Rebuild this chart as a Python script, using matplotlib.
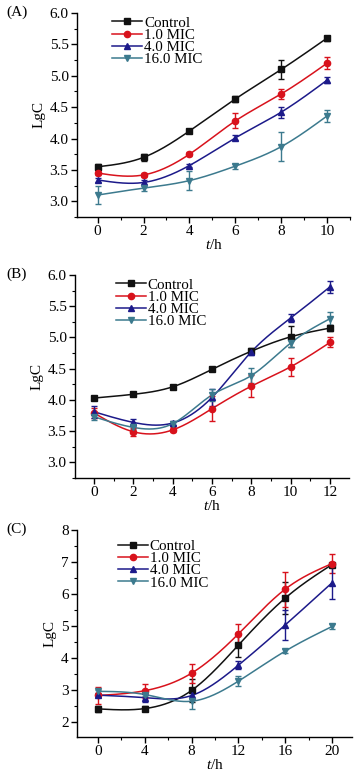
import numpy as np
import matplotlib
matplotlib.use("Agg")
import matplotlib.pyplot as plt
from matplotlib.ticker import MultipleLocator

plt.rcParams['font.family'] = ['Liberation Serif', 'DejaVu Serif']
plt.rcParams['mathtext.fontset'] = 'custom'
plt.rcParams['mathtext.it'] = 'Liberation Serif:italic'
plt.rcParams['mathtext.rm'] = 'Liberation Serif'

series_names = ["Control", "1.0 MIC", "4.0 MIC", "16.0 MIC"]
colors = ["#111111", "#d8121c", "#1c1a8a", "#3c7a8e"]
markers = ["s", "o", "^", "v"]

# Panel A
time_a = [0, 2, 4, 6, 8, 10]
vals_a = [
    [3.55, 3.70, 4.12, 4.63, 5.10, 5.60],
    [3.45, 3.42, 3.75, 4.28, 4.71, 5.20],
    [3.34, 3.30, 3.57, 4.01, 4.42, 4.93],
    [3.10, 3.21, 3.33, 3.56, 3.87, 4.36],
]
err_a = [
    [0.05, 0.06, 0.02, 0.04, 0.15, 0.04],
    [0.03, 0.03, 0.03, 0.12, 0.08, 0.10],
    [0.03, 0.04, 0.03, 0.04, 0.09, 0.05],
    [0.14, 0.05, 0.15, 0.04, 0.23, 0.09],
]

# Panel B
time_b = [0, 2, 4, 6, 8, 10, 12]
vals_b = [
    [4.03, 4.09, 4.21, 4.49, 4.78, 5.01, 5.15],
    [3.79, 3.49, 3.52, 3.86, 4.22, 4.53, 4.92],
    [3.81, 3.64, 3.63, 4.04, 4.77, 5.31, 5.81],
    [3.73, 3.56, 3.62, 4.08, 4.39, 4.91, 5.30],
]
err_b = [
    [0.02, 0.02, 0.02, 0.02, 0.05, 0.17, 0.05],
    [0.08, 0.06, 0.04, 0.20, 0.18, 0.14, 0.08],
    [0.10, 0.05, 0.03, 0.14, 0.05, 0.06, 0.10],
    [0.05, 0.03, 0.03, 0.10, 0.12, 0.07, 0.10],
]

# Panel C
time_c = [0, 4, 8, 12, 16, 20]
vals_c = [
    [2.40, 2.41, 2.98, 4.40, 5.87, 6.92],
    [2.82, 2.97, 3.52, 4.75, 6.15, 6.95],
    [2.83, 2.75, 2.82, 3.77, 5.03, 6.35],
    [2.95, 2.85, 2.64, 3.27, 4.21, 4.98],
]
err_c = [
    [0.10, 0.07, 0.35, 0.38, 0.50, 0.02],
    [0.27, 0.22, 0.30, 0.30, 0.55, 0.30],
    [0.07, 0.12, 0.12, 0.13, 0.47, 0.50],
    [0.05, 0.05, 0.25, 0.15, 0.07, 0.08],
]


def natural_spline(x, y, n=40):
    """Smooth connecting curve through the data points (display only)."""
    x = np.asarray(x, float)
    y = np.asarray(y, float)
    k = len(x)
    h = np.diff(x)
    A = np.zeros((k, k))
    r = np.zeros(k)
    A[0, 0] = 1
    A[-1, -1] = 1
    for i in range(1, k - 1):
        A[i, i - 1] = h[i - 1]
        A[i, i] = 2 * (h[i - 1] + h[i])
        A[i, i + 1] = h[i]
        r[i] = 6 * ((y[i + 1] - y[i]) / h[i] - (y[i] - y[i - 1]) / h[i - 1])
    M = np.linalg.solve(A, r)
    xs, ys = [], []
    for i in range(k - 1):
        t = np.linspace(x[i], x[i + 1], n, endpoint=(i == k - 2))
        a = x[i + 1] - t
        b = t - x[i]
        s = (M[i] * a ** 3 + M[i + 1] * b ** 3) / (6 * h[i]) \
            + (y[i] / h[i] - M[i] * h[i] / 6) * a \
            + (y[i + 1] / h[i] - M[i + 1] * h[i] / 6) * b
        xs.append(t)
        ys.append(s)
    return np.concatenate(xs), np.concatenate(ys)


fig = plt.figure(figsize=(3.64, 7.75), dpi=100)

panels = [
    dict(rect=[77 / 364, 1 - 217 / 775, 273 / 364, 204 / 775], t=time_a, v=vals_a, e=err_a,
         xlim=(-0.9, 11.0), ylim=(2.75, 6.0), xmaj=2, xmin=1, ymaj=0.5, ymin=0.25,
         yfmt="%.1f", label="(A)", leg=(0.13, 0.985)),
    dict(rect=[75 / 364, 1 - 478 / 775, 274 / 364, 203 / 775], t=time_b, v=vals_b, e=err_b,
         xlim=(-0.97, 12.97), ylim=(2.75, 6.0), xmaj=2, xmin=1, ymaj=0.5, ymin=0.25,
         yfmt="%.1f", label="(B)", leg=(0.15, 0.985)),
    dict(rect=[77 / 364, 1 - 737 / 775, 275 / 364, 207 / 775], t=time_c, v=vals_c, e=err_c,
         xlim=(-1.8, 21.7), ylim=(1.52, 8.0), xmaj=4, xmin=2, ymaj=1, ymin=0.5,
         yfmt="%d", label="(C)", leg=(0.15, 0.955)),
]

fs = 11
lfs = 10.8
for p in panels:
    ax = fig.add_axes(p["rect"])
    handles = []
    for vals, errs, c, m, name in zip(p["v"], p["e"], colors, markers, series_names):
        xs, ys = natural_spline(p["t"], vals)
        ax.plot(xs, ys, color=c, lw=1.1, zorder=2)
        ax.errorbar(p["t"], vals, yerr=errs, fmt="none", ecolor=c, elinewidth=1.0,
                    capsize=2.5, capthick=1.0, zorder=3)
        ax.plot(p["t"], vals, ls="none", marker=m, color=c, ms=4.5, zorder=4)
        h, = ax.plot([], [], color=c, lw=1.1, marker=m, ms=4.5, label=name)
        handles.append(h)
    ax.set_xlim(*p["xlim"])
    ax.set_ylim(*p["ylim"])
    ax.xaxis.set_major_locator(MultipleLocator(p["xmaj"]))
    ax.xaxis.set_minor_locator(MultipleLocator(p["xmin"]))
    ax.yaxis.set_major_locator(MultipleLocator(p["ymaj"]))
    ax.yaxis.set_minor_locator(MultipleLocator(p["ymin"]))
    ax.yaxis.set_major_formatter(matplotlib.ticker.FormatStrFormatter(p["yfmt"]))
    ax.set_xticks([tt for tt in ax.get_xticks() if 0 <= tt <= max(p["t"])])
    ax.set_xlim(*p["xlim"])
    for s in ["top", "right"]:
        ax.spines[s].set_visible(False)
    for s in ["left", "bottom"]:
        ax.spines[s].set_linewidth(1.0)
    ax.tick_params(which="major", direction="out", length=4, width=1.0, labelsize=fs, pad=2)
    ax.tick_params(which="minor", direction="out", length=2.5, width=0.8)
    ax.set_ylabel("LgC", fontsize=fs, labelpad=3)
    ax.set_xlabel(r"$\mathit{t}$/h", fontsize=fs, labelpad=0)
    ax.legend(handles=handles, loc="upper left", bbox_to_anchor=p["leg"], frameon=False,
              fontsize=lfs, handlelength=2.0, handletextpad=0.1, labelspacing=-0.08,
              borderpad=0.0, borderaxespad=0.0)
    bb = ax.get_position()
    fig.text(6 / 364, bb.y1 + 7 / 775, p["label"], fontsize=fs, ha="left", va="top")

fig.savefig("out.png", dpi=100)
